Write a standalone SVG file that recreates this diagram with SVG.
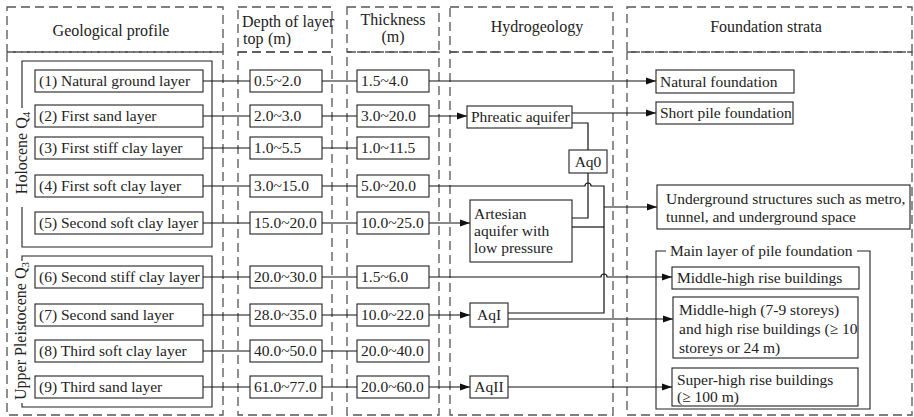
<svg xmlns="http://www.w3.org/2000/svg" width="914" height="417" viewBox="0 0 914 417">
<defs>
<marker id="arr" markerUnits="userSpaceOnUse" markerWidth="10" markerHeight="8" refX="10" refY="4" orient="auto">
<path d="M0,0.5 L10,4 L0,7.5 z" fill="#111"/>
</marker>
<style>
.dash{fill:none;stroke:#555;stroke-width:1.3;stroke-dasharray:9 5}
.box{fill:#fff;stroke:#222;stroke-width:1.1}
.frame{fill:none;stroke:#222;stroke-width:1.1}
.ln{fill:none;stroke:#111;stroke-width:1.2}
.ar{fill:none;stroke:#111;stroke-width:1.2;marker-end:url(#arr)}
</style>
</defs>

<g id="columns">
<rect class="dash" x="7" y="7" width="216" height="45"/>
<rect class="dash" x="7" y="52" width="216" height="363"/>
<rect class="dash" x="238" y="7" width="94" height="45"/>
<rect class="dash" x="238" y="52" width="94" height="363"/>
<rect class="dash" x="347" y="7" width="92" height="45"/>
<rect class="dash" x="347" y="52" width="92" height="363"/>
<rect class="dash" x="450" y="7" width="163" height="45"/>
<rect class="dash" x="450" y="52" width="163" height="363"/>
<rect class="dash" x="627" y="7" width="285" height="45"/>
<rect class="dash" x="627" y="52" width="285" height="363"/>
<text font-family="Liberation Serif" font-size="16" fill="#222" text-anchor="middle" x="111" y="36">Geological profile</text>
<text font-family="Liberation Serif" font-size="16" fill="#222" x="242" y="27">Depth of layer</text>
<text font-family="Liberation Serif" font-size="16" fill="#222" x="243" y="44">top<tspan x="268">(m)</tspan></text>
<text font-family="Liberation Serif" font-size="16" fill="#222" text-anchor="middle" x="393" y="25">Thickness</text>
<text font-family="Liberation Serif" font-size="16" fill="#222" text-anchor="middle" x="393" y="42">(m)</text>
<text font-family="Liberation Serif" font-size="16" fill="#222" text-anchor="middle" x="537" y="32">Hydrogeology</text>
<text font-family="Liberation Serif" font-size="16" fill="#222" text-anchor="middle" x="766" y="32">Foundation strata</text>
</g>

<g id="epochs">
<path class="frame" d="M22,108 V61 H212 V247 H22 V207"/>
<text font-family="Liberation Serif" font-size="16" fill="#222" text-anchor="middle" transform="translate(27,153) rotate(-90)">Holocene Q<tspan font-size="11" dy="3">4</tspan></text>
<path class="frame" d="M22,261 V256 H212 V407 H22 V403"/>
<text font-family="Liberation Serif" font-size="16" fill="#222" text-anchor="middle" transform="translate(26,331) rotate(-90)">Upper Pleistocene Q<tspan font-size="11" dy="3">3</tspan></text>
</g>

<g id="connectors">
<path class="ln" d="M203,81 H250 M322,81 H357 M203,116 H250 M322,116 H357 M203,148 H250 M322,148 H357 M203,186 H250 M322,186 H357 M203,223 H250 M322,223 H357 M203,277 H250 M322,277 H357 M203,315 H250 M322,315 H357 M203,351 H250 M322,351 H357 M203,387 H250 M322,387 H357"/>
<path class="ar" d="M429,81 H656"/>
<path class="ar" d="M429,116 H467"/>
<path class="ar" d="M572,113 H656"/>
<path class="ln" d="M572,123 H588 V150"/>
<path class="ln" d="M572,218 H588 V173"/>
<path class="ln" d="M429,186 H585 A3,3 0 0 1 591,186 H604 V313 H508"/>
<path class="ln" d="M572,227 H604"/>
<path class="ar" d="M604,207 H657"/>
<path class="ar" d="M429,223 H470"/>
<path class="ar" d="M429,277 H601 A3,3 0 0 1 607,277 H672"/>
<path class="ar" d="M429,315 H470"/>
<path class="ar" d="M508,319 H673"/>
<path class="ar" d="M429,387 H470"/>
<path class="ar" d="M508,387 H672"/>
</g>

<g id="layer1"><rect class="box" x="35" y="70" width="168" height="22"/><text font-family="Liberation Serif" font-size="15.5" fill="#222" x="39" y="86">(1) Natural ground layer</text></g>
<g id="layer2"><rect class="box" x="35" y="105" width="168" height="22"/><text font-family="Liberation Serif" font-size="15.5" fill="#222" x="39" y="121">(2) First sand layer</text></g>
<g id="layer3"><rect class="box" x="35" y="137" width="168" height="22"/><text font-family="Liberation Serif" font-size="15.5" fill="#222" x="39" y="153">(3) First stiff clay layer</text></g>
<g id="layer4"><rect class="box" x="35" y="175" width="168" height="22"/><text font-family="Liberation Serif" font-size="15.5" fill="#222" x="39" y="191">(4) First soft clay layer</text></g>
<g id="layer5"><rect class="box" x="35" y="212" width="168" height="22"/><text font-family="Liberation Serif" font-size="15.5" fill="#222" x="39" y="228">(5) Second soft clay layer</text></g>
<g id="layer6"><rect class="box" x="35" y="266" width="168" height="22"/><text font-family="Liberation Serif" font-size="15.5" fill="#222" x="39" y="282">(6) Second stiff clay layer</text></g>
<g id="layer7"><rect class="box" x="35" y="304" width="168" height="22"/><text font-family="Liberation Serif" font-size="15.5" fill="#222" x="39" y="320">(7) Second sand layer</text></g>
<g id="layer8"><rect class="box" x="35" y="340" width="168" height="22"/><text font-family="Liberation Serif" font-size="15.5" fill="#222" x="39" y="356">(8) Third soft clay layer</text></g>
<g id="layer9"><rect class="box" x="35" y="376" width="168" height="22"/><text font-family="Liberation Serif" font-size="15.5" fill="#222" x="39" y="392">(9) Third sand layer</text></g>

<g id="depth1"><rect class="box" x="250" y="70" width="72" height="22"/><text font-family="Liberation Serif" font-size="15.5" fill="#222" x="254" y="86">0.5~2.0</text></g>
<g id="depth2"><rect class="box" x="250" y="105" width="72" height="22"/><text font-family="Liberation Serif" font-size="15.5" fill="#222" x="254" y="121">2.0~3.0</text></g>
<g id="depth3"><rect class="box" x="250" y="137" width="72" height="22"/><text font-family="Liberation Serif" font-size="15.5" fill="#222" x="254" y="153">1.0~5.5</text></g>
<g id="depth4"><rect class="box" x="250" y="175" width="72" height="22"/><text font-family="Liberation Serif" font-size="15.5" fill="#222" x="254" y="191">3.0~15.0</text></g>
<g id="depth5"><rect class="box" x="250" y="212" width="72" height="22"/><text font-family="Liberation Serif" font-size="15.5" fill="#222" x="254" y="228">15.0~20.0</text></g>
<g id="depth6"><rect class="box" x="250" y="266" width="72" height="22"/><text font-family="Liberation Serif" font-size="15.5" fill="#222" x="254" y="282">20.0~30.0</text></g>
<g id="depth7"><rect class="box" x="250" y="304" width="72" height="22"/><text font-family="Liberation Serif" font-size="15.5" fill="#222" x="254" y="320">28.0~35.0</text></g>
<g id="depth8"><rect class="box" x="250" y="340" width="72" height="22"/><text font-family="Liberation Serif" font-size="15.5" fill="#222" x="254" y="356">40.0~50.0</text></g>
<g id="depth9"><rect class="box" x="250" y="376" width="72" height="22"/><text font-family="Liberation Serif" font-size="15.5" fill="#222" x="254" y="392">61.0~77.0</text></g>

<g id="thick1"><rect class="box" x="357" y="70" width="72" height="22"/><text font-family="Liberation Serif" font-size="15.5" fill="#222" x="361" y="86">1.5~4.0</text></g>
<g id="thick2"><rect class="box" x="357" y="105" width="72" height="22"/><text font-family="Liberation Serif" font-size="15.5" fill="#222" x="361" y="121">3.0~20.0</text></g>
<g id="thick3"><rect class="box" x="357" y="137" width="72" height="22"/><text font-family="Liberation Serif" font-size="15.5" fill="#222" x="361" y="153">1.0~11.5</text></g>
<g id="thick4"><rect class="box" x="357" y="175" width="72" height="22"/><text font-family="Liberation Serif" font-size="15.5" fill="#222" x="361" y="191">5.0~20.0</text></g>
<g id="thick5"><rect class="box" x="357" y="212" width="72" height="22"/><text font-family="Liberation Serif" font-size="15.5" fill="#222" x="361" y="228">10.0~25.0</text></g>
<g id="thick6"><rect class="box" x="357" y="266" width="72" height="22"/><text font-family="Liberation Serif" font-size="15.5" fill="#222" x="361" y="282">1.5~6.0</text></g>
<g id="thick7"><rect class="box" x="357" y="304" width="72" height="22"/><text font-family="Liberation Serif" font-size="15.5" fill="#222" x="361" y="320">10.0~22.0</text></g>
<g id="thick8"><rect class="box" x="357" y="340" width="72" height="22"/><text font-family="Liberation Serif" font-size="15.5" fill="#222" x="361" y="356">20.0~40.0</text></g>
<g id="thick9"><rect class="box" x="357" y="376" width="72" height="22"/><text font-family="Liberation Serif" font-size="15.5" fill="#222" x="361" y="392">20.0~60.0</text></g>

<g id="phreatic"><rect class="box" x="467" y="106" width="105" height="22"/><text font-family="Liberation Serif" font-size="15.5" fill="#222" x="471" y="122">Phreatic aquifer</text></g>
<g id="aq0"><rect class="box" x="569" y="150" width="38" height="23"/><text font-family="Liberation Serif" font-size="15.5" fill="#222" text-anchor="middle" x="588" y="167">Aq0</text></g>
<g id="artesian"><rect class="box" x="470" y="200" width="102" height="62"/><text font-family="Liberation Serif" font-size="15.5" fill="#222" x="474" y="219">Artesian</text><text font-family="Liberation Serif" font-size="15.5" fill="#222" x="474" y="236">aquifer with</text><text font-family="Liberation Serif" font-size="15.5" fill="#222" x="474" y="253">low pressure</text></g>
<g id="aqI"><rect class="box" x="470" y="303" width="38" height="24"/><text font-family="Liberation Serif" font-size="15.5" fill="#222" text-anchor="middle" x="489" y="320">AqI</text></g>
<g id="aqII"><rect class="box" x="470" y="376" width="38" height="22"/><text font-family="Liberation Serif" font-size="15.5" fill="#222" text-anchor="middle" x="489" y="392">AqII</text></g>

<g id="natural"><rect class="box" x="656" y="70" width="138" height="23"/><text font-family="Liberation Serif" font-size="15.5" fill="#222" x="660" y="87">Natural foundation</text></g>
<g id="shortpile"><rect class="box" x="656" y="102" width="137" height="22"/><text font-family="Liberation Serif" font-size="15.5" fill="#222" x="660" y="118">Short pile foundation</text></g>
<g id="underground"><rect class="box" x="657" y="185" width="253" height="44"/><text font-family="Liberation Serif" font-size="15.5" fill="#222" x="666" y="204">Underground structures such as metro,</text><text font-family="Liberation Serif" font-size="15.5" fill="#222" x="666" y="222">tunnel, and underground space</text></g>
<g id="pilelayer"><path class="frame" d="M666,251 H656 V409 H870 V251 H857"/><text font-family="Liberation Serif" font-size="15.5" fill="#222" x="670" y="256">Main layer of pile foundation</text></g>
<g id="midhigh"><rect class="box" x="672" y="267" width="187" height="22"/><text font-family="Liberation Serif" font-size="15.5" fill="#222" x="677" y="283">Middle-high rise buildings</text></g>
<g id="highrise"><rect class="box" x="673" y="297" width="185" height="61"/><text font-family="Liberation Serif" font-size="15.5" fill="#222" x="679" y="315">Middle-high (7-9 storeys)</text><text font-family="Liberation Serif" font-size="15.5" fill="#222" x="679" y="334">and high rise buildings (≥ 10</text><text font-family="Liberation Serif" font-size="15.5" fill="#222" x="679" y="353">storeys or 24 m)</text></g>
<g id="superhigh"><rect class="box" x="672" y="368" width="186" height="38"/><text font-family="Liberation Serif" font-size="15.5" fill="#222" x="677" y="385">Super-high rise buildings</text><text font-family="Liberation Serif" font-size="15.5" fill="#222" x="677" y="402">(≥ 100 m)</text></g>
</svg>
